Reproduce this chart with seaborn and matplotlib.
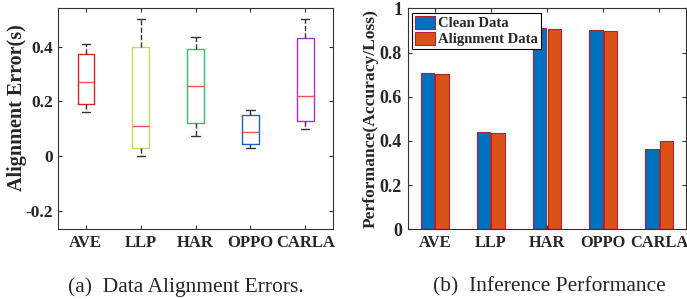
import numpy as np
import pandas as pd
import matplotlib
matplotlib.use("Agg")
import matplotlib.pyplot as plt
import seaborn as sns
from matplotlib.ticker import FuncFormatter

# Data
datasets = ["AVE", "LLP", "HAR", "OPPO", "CARLA"]

# (a) alignment error box stats: whisker low, q1, median, q3, whisker high
err_low = [0.16, 0.00, 0.075, 0.03, 0.10]
err_q1 = [0.19, 0.03, 0.12, 0.045, 0.13]
err_med = [0.27, 0.11, 0.255, 0.09, 0.22]
err_q3 = [0.375, 0.40, 0.39, 0.15, 0.43]
err_high = [0.41, 0.50, 0.435, 0.17, 0.50]
box_colors = ["#E02424", "#C6DA62", "#2FC266", "#1F5FCF", "#A534D3"]

# (b) inference performance
clean_perf = [0.706, 0.439, 0.912, 0.900, 0.363]
align_perf = [0.703, 0.435, 0.906, 0.898, 0.400]
bar_colors = ["#0072BD", "#D95319"]

sns.set_theme(style="ticks")
plt.rcParams["font.family"] = ["Liberation Serif", "DejaVu Serif"]
plt.rcParams["axes.unicode_minus"] = False

# long-form table: five points per dataset give exactly the box stats above
err_df = pd.DataFrame({
    "dataset": np.repeat(datasets, 5),
    "error": np.column_stack([err_low, err_q1, err_med, err_q3, err_high]).ravel(),
})
perf_df = pd.DataFrame({
    "dataset": datasets * 2,
    "perf": clean_perf + align_perf,
    "series": ["Clean Data"] * 5 + ["Alignment Data"] * 5,
})

fig = plt.figure(figsize=(6.87, 2.99), dpi=100)
ax1 = fig.add_axes([0.0849, 0.233, 0.3994, 0.739])
ax2 = fig.add_axes([0.5934, 0.233, 0.4047, 0.739])

sns.boxplot(data=err_df, x="dataset", y="error", hue="dataset",
            palette=box_colors, saturation=1, fill=False, width=0.3,
            whis=np.inf, linewidth=1.0, legend=False, ax=ax1,
            whiskerprops=dict(color="#333333", linestyle="--", linewidth=1.0),
            capprops=dict(color="#333333", linewidth=1.0),
            medianprops=dict(color="#FF5050", linewidth=1.0))
ax1.set_ylim(-0.267, 0.54)
ax1.set_xlim(-0.5, 4.5)
ax1.set_yticks([-0.2, 0, 0.2, 0.4])
ax1.yaxis.set_major_formatter(FuncFormatter(lambda v, p: f"{v:g}"))
ax1.set_xlabel("")
ax1.set_ylabel("Alignment Error(s)", fontsize=14.5, fontweight="bold")

sns.barplot(data=perf_df, x="dataset", y="perf", hue="series",
            palette=bar_colors, saturation=1, width=0.52, gap=0.08,
            edgecolor="#B0203A", linewidth=0.8, ax=ax2)
ax2.set_ylim(0, 1)
ax2.set_xlim(-0.48, 4.47)
ax2.set_yticks([0, 0.2, 0.4, 0.6, 0.8, 1])
ax2.yaxis.set_major_formatter(FuncFormatter(lambda v, p: f"{v:g}"))
ax2.set_xlabel("")
ax2.set_ylabel("Performance(Accuracy/Loss)", fontsize=12.6, fontweight="bold")
leg = ax2.legend(loc="upper left", frameon=True, fancybox=False,
                 edgecolor="black", framealpha=1, borderaxespad=0.3,
                 handlelength=1.4, handleheight=1.0, handletextpad=0.2,
                 borderpad=0.2, labelspacing=0.1,
                 prop=dict(family="Liberation Serif", weight="bold", size=10.5))
leg.get_frame().set_linewidth(0.8)

for ax, xsize, ysize in ((ax1, 12, 12.5), (ax2, 11.8, 13)):
    ax.tick_params(direction="in", top=True, right=True, length=3,
                   width=0.8, color="#333333", pad=4)
    ax.tick_params(axis="x", labelsize=xsize)
    ax.tick_params(axis="y", labelsize=ysize)
    for lab in ax.get_xticklabels() + ax.get_yticklabels():
        lab.set_fontweight("bold")
    for sp in ax.spines.values():
        sp.set_visible(True)
        sp.set_color("#333333")
        sp.set_linewidth(0.8)
    ax.yaxis.labelpad = 1

# MATLAB placed the left label slightly above centre
ax1.yaxis.set_label_coords(-0.115, 0.55)

fig.text(0.27, 0.04, "(a)  Data Alignment Errors.", ha="center", va="center",
         fontsize=15.5, family="Liberation Serif")
fig.text(0.80, 0.04, "(b)  Inference Performance", ha="center", va="center",
         fontsize=15.5, family="Liberation Serif")

fig.savefig("out.png", dpi=100)
